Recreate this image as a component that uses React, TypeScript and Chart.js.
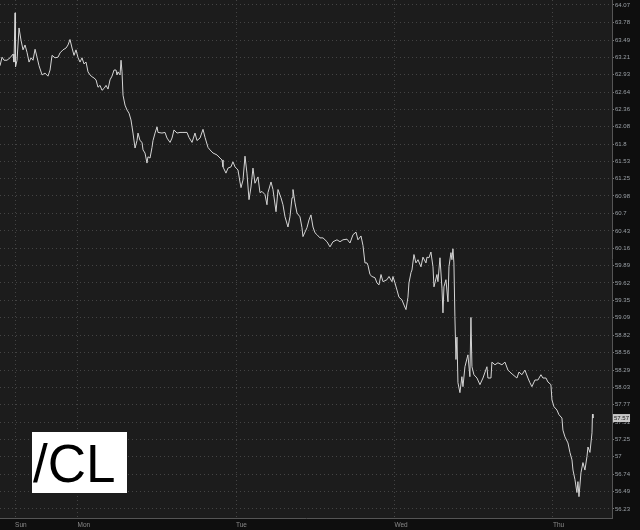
import { useEffect, useRef } from "react";
import { Chart, registerables } from "chart.js";

Chart.register(...registerables);

// Hours relative to Monday 00:00
const TIMES = [-11.74,-11.43,-11.13,-10.68,-10.22,-9.77,-9.62,-9.46,-9.39,-9.16,
-8.86,-8.56,-8.25,-7.95,-7.65,-7.34,-7.04,-6.74,-6.43,-6.13,
-5.83,-5.37,-4.92,-4.47,-4.16,-3.86,-3.41,-2.95,-2.65,-2.20,
-1.74,-1.44,-1.14,-0.83,-0.53,-0.23,0.08,0.38,0.68,0.98,
1.29,1.59,1.89,2.20,2.50,2.80,3.10,3.41,3.71,4.01,
4.32,4.62,4.92,5.22,5.53,5.83,5.98,6.13,6.44,6.59,
6.74,6.89,7.19,7.50,7.80,8.10,8.40,8.71,9.01,9.16,
9.46,9.77,9.92,10.22,10.52,10.67,10.98,11.28,11.43,11.74,
12.04,12.19,12.79,13.25,13.55,14.01,14.31,14.61,15.07,15.52,
15.97,16.58,16.88,17.34,17.79,18.09,18.55,19.00,19.31,19.76,
20.06,20.52,21.12,21.58,21.88,22.03,22.48,22.79,23.24,23.54,
23.85,24.30,24.60,24.76,25.06,25.36,25.66,25.97,26.27,26.57,
26.87,27.33,27.63,27.94,28.39,28.69,28.84,29.30,29.60,30.06,
30.36,30.81,31.11,31.42,31.87,32.17,32.48,32.63,32.93,33.23,
33.69,33.99,34.14,34.75,35.05,35.35,35.66,35.96,36.26,36.72,
37.17,37.78,38.23,38.69,39.29,39.75,40.20,40.81,41.26,41.72,
42.17,42.47,42.93,43.23,43.53,43.84,43.99,44.29,44.59,45.05,
45.35,45.65,45.96,46.26,46.86,47.17,47.62,47.77,48.07,48.38,
48.68,49.13,49.44,49.74,50.04,50.19,50.50,50.65,50.95,51.25,
51.56,52.01,52.31,52.77,52.92,53.22,53.52,53.83,53.98,54.43,
54.58,54.89,55.19,55.34,55.49,55.79,56.10,56.25,56.55,56.70,
56.85,57.00,57.15,57.31,57.46,57.61,57.91,58.21,58.37,58.67,
59.12,59.42,59.58,59.73,60.03,60.49,60.94,61.40,62.00,62.15,
62.61,62.76,63.21,63.67,64.27,64.73,65.18,65.48,65.94,66.54,
66.85,67.30,67.75,68.21,68.51,68.81,69.27,69.72,70.18,70.48,
70.94,71.24,71.69,71.85,72.15,72.60,72.91,73.36,73.51,73.82,
74.27,74.57,74.88,75.03,75.33,75.63,75.78,75.94,76.24,76.54,
76.84,77.15,77.30,77.60,77.91,77.98,78.06];

const PRICES = [63.07,63.21,63.16,63.16,63.20,63.26,63.13,63.94,63.05,63.16,
63.69,63.49,63.33,63.41,63.29,63.13,63.20,63.16,63.34,63.21,
63.07,62.92,62.95,62.90,63.00,63.24,63.20,63.21,63.28,63.33,
63.36,63.41,63.50,63.36,63.24,63.33,63.20,63.13,63.20,63.10,
63.13,62.97,62.92,62.89,62.87,62.84,62.72,62.75,62.67,62.70,
62.75,62.69,62.84,62.90,63.00,63.00,62.92,62.97,62.92,63.16,
62.97,62.59,62.43,62.35,62.30,62.19,61.98,61.74,61.86,61.98,
61.86,61.83,61.71,61.66,61.50,61.60,61.58,61.75,61.86,61.98,
62.08,61.99,61.98,61.99,61.90,61.83,61.90,62.03,61.98,61.99,
61.99,61.99,61.91,61.83,61.98,61.86,61.90,62.04,61.91,61.75,
61.71,61.66,61.63,61.58,61.55,61.44,61.34,61.42,61.44,61.52,
61.44,61.39,61.20,61.11,61.23,61.61,61.34,60.92,61.12,61.42,
61.18,61.28,61.03,61.05,61.00,60.84,61.03,61.20,61.08,60.73,
61.08,60.95,60.84,60.65,60.49,60.65,60.95,61.08,60.87,60.71,
60.65,60.48,60.34,60.48,60.60,60.68,60.49,60.40,60.37,60.32,
60.32,60.26,60.18,60.26,60.29,60.26,60.29,60.30,60.24,60.37,
60.41,60.29,60.35,60.20,59.93,59.93,59.89,59.75,59.72,59.70,
59.62,59.59,59.75,59.64,59.67,59.72,59.64,59.72,59.62,59.51,
59.40,59.36,59.28,59.21,59.40,59.62,59.78,59.82,60.06,59.93,
59.98,59.87,60.02,59.93,60.02,60.01,60.10,59.87,59.56,59.75,
59.64,60.01,59.54,59.16,59.56,59.67,59.33,59.87,60.09,59.98,
60.15,59.93,59.10,58.45,58.79,58.10,57.95,58.19,58.04,58.34,
58.52,58.19,59.09,58.34,58.22,58.17,58.07,58.17,58.34,58.17,
58.17,58.41,58.37,58.40,58.37,58.41,58.29,58.26,58.22,58.17,
58.26,58.22,58.29,58.17,58.10,58.04,58.14,58.14,58.22,58.17,
58.17,58.11,58.07,57.84,57.74,57.69,57.62,57.57,57.39,57.29,
57.20,57.06,56.95,56.80,56.66,56.47,56.63,56.41,56.76,56.91,
56.80,57.00,57.14,57.06,57.35,57.63,57.57];

const DAY_LABELS = ["Sun", "Mon", "Tue", "Wed", "Thu"];
const DAY_POSITIONS = [-9.46, 0, 24, 48, 72];

const PRICE_TICKS = [56.23,56.49,56.74,57,57.25,57.51,57.77,58.03,58.29,58.56,
58.82,59.09,59.35,59.62,59.89,60.16,60.43,60.7,60.98,61.25,
61.53,61.8,62.08,62.36,62.64,62.93,63.21,63.49,63.78,64.07];

const SYMBOL = "/CL";
const LAST_PRICE = 57.57;

const X_MIN = -11.74;
const X_MAX = 80.94;
const Y_MIN = 56.099;
const Y_MAX = 64.153;

const FONT = '"Liberation Sans", Arial, sans-serif';

export default function App() {
  const ref = useRef<HTMLCanvasElement | null>(null);

  useEffect(() => {
    document.body.style.margin = "0";
    const canvas = ref.current;
    if (!canvas) return;

    const bgPlugin = {
      id: "bg",
      beforeDraw(chart: any) {
        const { ctx, chartArea } = chart;
        ctx.save();
        ctx.fillStyle = "#0e0e0e";
        ctx.fillRect(0, 0, chart.width, chart.height);
        ctx.fillStyle = "#1c1c1c";
        ctx.fillRect(chartArea.left, chartArea.top, chartArea.right - chartArea.left, chartArea.bottom - chartArea.top);
        ctx.restore();
      },
      afterDraw(chart: any) {
        const { ctx, chartArea } = chart;
        ctx.save();
        // symbol box
        ctx.fillStyle = "#ffffff";
        ctx.fillRect(32, 432, 95, 61);
        ctx.fillStyle = "#000000";
        ctx.font = `53px ${FONT}`;
        ctx.textBaseline = "alphabetic";
        ctx.textAlign = "left";
        ctx.fillText(SYMBOL, 33, 482);
        // last price label
        const y = chart.scales.y.getPixelForValue(LAST_PRICE);
        const x = chartArea.right + 1;
        const label = LAST_PRICE.toFixed(2);
        ctx.font = `6px ${FONT}`;
        const w = ctx.measureText(label).width + 2;
        ctx.fillStyle = "#c8c8c8";
        ctx.fillRect(x, y - 4, w, 8);
        ctx.fillStyle = "#1a1a1a";
        ctx.textBaseline = "middle";
        ctx.fillText(label, x + 1, y + 0.5);
        ctx.restore();
      },
    };

    const chart = new Chart(canvas, {
      type: "line",
      data: {
        datasets: [
          {
            data: TIMES.map((t, i) => ({ x: t, y: PRICES[i] })),
            borderColor: "#d4d4d4",
            borderWidth: 1,
            pointRadius: 0,
            tension: 0,
            fill: false,
          },
        ],
      },
      options: {
        animation: false,
        responsive: false,
        maintainAspectRatio: false,
        layout: { padding: 0 },
        plugins: { legend: { display: false }, tooltip: { enabled: false } },
        scales: {
          x: {
            type: "linear",
            min: X_MIN,
            max: X_MAX,
            afterBuildTicks: (s: any) => {
              s.ticks = DAY_POSITIONS.map((v) => ({ value: v }));
            },
            afterFit: (s: any) => {
              s.height = 12;
              s.paddingLeft = 0;
              s.paddingRight = 0;
            },
            grid: { color: "#444444", lineWidth: 1, drawTicks: false },
            border: { display: true, color: "#555555", width: 1, dash: [1, 3] },
            ticks: {
              autoSkip: false,
              maxRotation: 0,
              minRotation: 0,
              align: "start",
              padding: 3,
              color: "#8a8a8a",
              font: { family: FONT, size: 6.5 },
              callback: (_v: any, i: number) => DAY_LABELS[i],
            },
          },
          y: {
            type: "logarithmic",
            position: "right",
            min: Y_MIN,
            max: Y_MAX,
            afterBuildTicks: (s: any) => {
              s.ticks = PRICE_TICKS.map((v) => ({ value: v }));
            },
            afterFit: (s: any) => {
              s.width = 28;
              s.paddingTop = 0;
              s.paddingBottom = 0;
            },
            grid: {
              color: "#444444",
              lineWidth: 1,
              drawTicks: true,
              tickLength: 2,
              tickColor: "#777777",
              tickBorderDash: [],
            },
            border: { display: true, color: "#555555", width: 1, dash: [1, 3] },
            ticks: {
              autoSkip: false,
              padding: 1,
              color: "#9aa0a6",
              font: { family: FONT, size: 6 },
              callback: (_v: any, i: number) => String(PRICE_TICKS[i]),
            },
          },
        },
      },
      plugins: [bgPlugin],
    } as any);

    return () => chart.destroy();
  }, []);

  return (
    <div style={{ width: 640, height: 530 }}>
      <canvas ref={ref} width={640} height={530} style={{ display: "block" }} />
    </div>
  );
}
